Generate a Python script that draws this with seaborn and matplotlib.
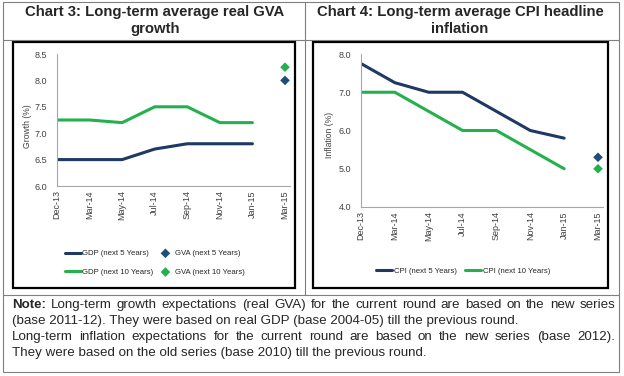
import numpy as np
import pandas as pd
import matplotlib
matplotlib.use('Agg')
import matplotlib.pyplot as plt
from matplotlib.lines import Line2D
from matplotlib.patches import Rectangle
import seaborn as sns

# survey rounds (x axis)
rounds = ['Dec-13', 'Mar-14', 'May-14', 'Jul-14', 'Sep-14', 'Nov-14', 'Jan-15', 'Mar-15']

# chart 3: growth expectations (%)
gdp_5y = [6.5, 6.5, 6.5, 6.7, 6.8, 6.8, 6.8, np.nan]
gdp_10y = [7.25, 7.25, 7.2, 7.5, 7.5, 7.2, 7.2, np.nan]
gva_5y = [np.nan] * 7 + [8.0]
gva_10y = [np.nan] * 7 + [8.25]

# chart 4: CPI inflation expectations (%)
cpi_5y = [7.75, 7.25, 7.0, 7.0, 6.5, 6.0, 5.8, np.nan]
cpi_10y = [7.0, 7.0, 6.5, 6.0, 6.0, 5.5, 5.0, np.nan]
cpi_5y_new = [np.nan] * 7 + [5.3]
cpi_10y_new = [np.nan] * 7 + [5.0]

note_lines = [
    'Long-term growth expectations (real GVA) for the current round are based on the new series',
    '(base 2011-12). They were based on real GDP (base 2004-05) till the previous round.',
    'Long-term inflation expectations for the current round are based on the new series (base 2012).',
    'They were based on the old series (base 2010) till the previous round.',
]

navy = '#1f3864'
blue = '#1f4e79'
green = '#22b14c'
grid_grey = '#a6a6a6'
tick_col = '#404040'

sns.set_style('white')
plt.rcParams['font.family'] = ['Liberation Sans', 'DejaVu Sans']
narrow = ['Liberation Sans Narrow', 'Liberation Sans', 'DejaVu Sans']

W, H = 624, 376
fig = plt.figure(figsize=(W / 100, H / 100), dpi=100)


def px(x, y):
    return x / W, 1 - y / H


def fline(x0, y0, x1, y1, color, lw):
    a, b = px(x0, y0)
    c, d = px(x1, y1)
    fig.add_artist(Line2D([a, c], [b, d], color=color, lw=lw, transform=fig.transFigure))


def fbox(x0, y0, x1, y1, color, lw):
    a, b = px(x0, y1)
    fig.add_artist(Rectangle((a, b), (x1 - x0) / W, (y1 - y0) / H, fill=False,
                             edgecolor=color, lw=lw, transform=fig.transFigure))


# table frame
fbox(3, 2, 619, 372, '#7f7f7f', 0.8)
fline(3, 40, 619, 40, '#7f7f7f', 0.8)
fline(3, 295, 619, 295, '#7f7f7f', 0.8)
fline(305, 2, 305, 295, '#7f7f7f', 0.8)
fbox(13, 42, 295, 288, 'black', 1.6)
fbox(313, 42, 608, 288, 'black', 1.6)

# titles
for xc, lines in [(155, ['Chart 3: Long-term average real GVA', 'growth']),
                  (460, ['Chart 4: Long-term average CPI headline', 'inflation'])]:
    for yy, t in zip([12, 29], lines):
        fig.text(*px(xc, yy), t, ha='center', va='center', fontsize=10.7, fontweight='bold')


def make_axes(x0, x7, ytop, ybot):
    unit = (x7 - x0) / 7
    a, b = px(x0, ybot)
    ax = fig.add_axes([a, b, 7.15 * unit / W, (ybot - ytop) / H])
    ax.set_xlim(0, 7.15)
    for s in ['top', 'right']:
        ax.spines[s].set_visible(False)
    for s in ['left', 'bottom']:
        ax.spines[s].set_color(grid_grey)
        ax.spines[s].set_linewidth(0.8)
    ax.set_xticks(range(len(rounds)))
    ax.set_xticklabels(rounds, rotation=90, fontsize=6.5, color=tick_col, family=narrow)
    ax.tick_params(axis='x', length=0, pad=3)
    ax.tick_params(axis='y', length=0, pad=7, labelsize=6.5, labelcolor=tick_col)
    return ax


leg_kw = dict(frameon=False, prop={'family': narrow, 'size': 5.6}, loc='center',
              bbox_transform=fig.transFigure, handlelength=2.0, handletextpad=0.25)

df3 = pd.DataFrame({'pos': range(len(rounds)), 'gdp5': gdp_5y, 'gdp10': gdp_10y,
                    'gva5': gva_5y, 'gva10': gva_10y})
ax3 = make_axes(57, 285, 54, 186)
sns.lineplot(data=df3, x='pos', y='gdp5', ax=ax3, color=navy, lw=2.2, label='GDP (next 5 Years)')
sns.lineplot(data=df3, x='pos', y='gdp10', ax=ax3, color=green, lw=2.2, label='GDP (next 10 Years)')
sns.scatterplot(data=df3, x='pos', y='gva5', ax=ax3, color=blue, marker='D', s=24,
                edgecolor='none', label='GVA (next 5 Years)')
sns.scatterplot(data=df3, x='pos', y='gva10', ax=ax3, color=green, marker='D', s=24,
                edgecolor='none', label='GVA (next 10 Years)')
ax3.set_ylim(6.0, 8.5)
ax3.set_yticks(np.arange(6.0, 8.51, 0.5))
ax3.set_yticklabels([f'{v:.1f}' for v in np.arange(6.0, 8.51, 0.5)], family=narrow)
ax3.set_xlabel('')
ax3.set_ylabel('Growth (%)', fontsize=6.2, color=tick_col, family=narrow)
ax3.yaxis.set_label_coords(-0.107, 0.45)
ax3.legend(ncol=2, bbox_to_anchor=(px(155, 263)), columnspacing=0.5, labelspacing=1.45, **leg_kw)

df4 = pd.DataFrame({'pos': range(len(rounds)), 'cpi5': cpi_5y, 'cpi10': cpi_10y,
                    'new5': cpi_5y_new, 'new10': cpi_10y_new})
ax4 = make_axes(361, 598, 54, 207)
sns.lineplot(data=df4, x='pos', y='cpi5', ax=ax4, color=navy, lw=2.2, label='CPI (next 5 Years)')
sns.lineplot(data=df4, x='pos', y='cpi10', ax=ax4, color=green, lw=2.2, label='CPI (next 10 Years)')
sns.scatterplot(data=df4, x='pos', y='new5', ax=ax4, color=blue, marker='D', s=24,
                edgecolor='none', legend=False)
sns.scatterplot(data=df4, x='pos', y='new10', ax=ax4, color=green, marker='D', s=24,
                edgecolor='none', legend=False)
ax4.set_ylim(4.0, 8.0)
ax4.set_yticks(np.arange(4.0, 8.01, 1.0))
ax4.set_yticklabels([f'{v:.1f}' for v in np.arange(4.0, 8.01, 1.0)], family=narrow)
ax4.set_xlabel('')
ax4.set_ylabel('Inflation (%)', fontsize=6.2, color=tick_col, family=narrow)
ax4.yaxis.set_label_coords(-0.11, 0.47)
ax4.legend(ncol=2, bbox_to_anchor=(px(463, 271)), columnspacing=1.1, **leg_kw)

# note text, first and third lines justified
renderer = fig.canvas.get_renderer()
note_fs = 9.6


def justify(words, y, x0, x1, bold_first=False):
    objs = []
    for i, w in enumerate(words):
        t = fig.text(0, 0, w, fontsize=note_fs, va='center',
                     fontweight='bold' if (bold_first and i == 0) else 'normal')
        objs.append(t)
    widths = [t.get_window_extent(renderer).width for t in objs]
    gap = (x1 - x0 - sum(widths)) / (len(words) - 1)
    x = x0
    for t, wd in zip(objs, widths):
        t.set_position(px(x, y))
        x += wd + gap


justify(['Note:'] + note_lines[0].split(), 305, 12, 615, bold_first=True)
fig.text(*px(12, 321), note_lines[1], fontsize=note_fs, va='center')
justify(note_lines[2].split(), 337, 12, 615)
fig.text(*px(12, 353), note_lines[3], fontsize=note_fs, va='center')

fig.savefig('out.png', dpi=100)
